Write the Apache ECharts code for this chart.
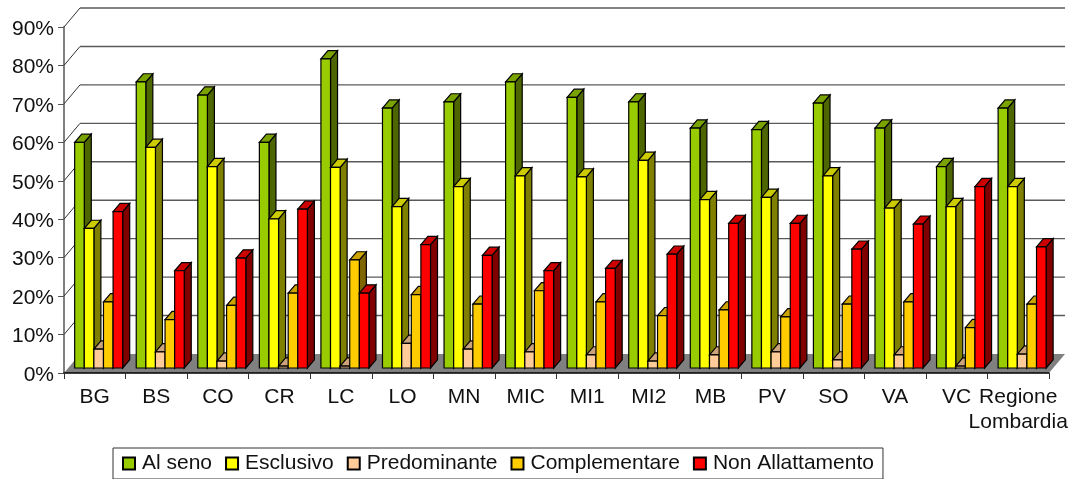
<!DOCTYPE html>
<html>
<head>
<meta charset="utf-8">
<style>html,body{margin:0;padding:0;background:#fff}#c{width:1074px;height:479px}</style>
<script src="https://cdn.jsdelivr.net/npm/echarts@6/dist/echarts.min.js"></script>
</head>
<body>
<div id="c"></div>
<script>
const categories = ['BG','BS','CO','CR','LC','LO','MN','MIC','MI1','MI2','MB','PV','SO','VA','VC','Regione\nLombardia'];
const alSeno        = [58.7,74.4,71.0,58.7,80.4,67.6,69.2,74.4,70.4,69.2,62.4,62.0,68.9,62.4,52.4,67.6];
const esclusivo     = [36.3,57.4,52.4,38.8,52.2,42.0,47.2,50.0,49.7,54.0,43.8,44.4,50.0,41.6,42.0,47.2];
const predominante  = [4.9,4.2,1.8,0.5,0.5,6.4,4.9,4.2,3.4,1.8,3.4,4.2,2.1,3.4,0.5,3.6];
const complementare = [17.2,12.6,16.3,19.5,28.1,19.1,16.6,20.1,17.2,13.6,15.1,13.3,16.6,17.2,10.5,16.6];
const nonAllatt     = [40.7,25.3,28.6,41.3,19.5,32.1,29.3,25.3,25.9,29.6,37.6,37.6,30.9,37.4,47.2,31.5];
const yTicks = [0,10,20,30,40,50,60,70,80,90];

const seriesDefs = [
  {name:'Al seno', values:alSeno, front:'#99cc00', side:'#4d6600', top:'#7aa300'},
  {name:'Esclusivo', values:esclusivo, front:'#ffff00', side:'#808000', top:'#cccc00'},
  {name:'Predominante', values:predominante, front:'#ffcc99', side:'#80664d', top:'#cca37a'},
  {name:'Complementare', values:complementare, front:'#ffcc00', side:'#806600', top:'#cca300'},
  {name:'Non Allattamento', values:nonAllatt, front:'#ff0000', side:'#800000', top:'#cc0000'}
];

const WALL_DX = 16, WALL_DY = 19;
const BASE_DX = 3.9, BASE_DY = 5;
const BAR_DX = 7, BAR_DY = 8.2;
const BAR_FRAC = 0.156;
const EDGE = {stroke:'#000', lineWidth:1.2};
const FONT = '"Liberation Sans",Arial,sans-serif';

function wallItem(params, api){
  const v = api.value(0);
  const cs = params.coordSys;
  const p = api.coord([0, v]);
  const y = p[1], left = cs.x, right = cs.x + cs.width;
  const children = [];
  if (params.dataIndex === 0) {
    children.push({type:'polygon', shape:{points:[[left,y],[right,y],[right+WALL_DX,y-WALL_DY],[left+WALL_DX,y-WALL_DY]]},
      style:{fill:'#808080', stroke:'none'}});
  } else {
    children.push({type:'line', shape:{x1:left+WALL_DX,y1:y-WALL_DY,x2:right+WALL_DX,y2:y-WALL_DY},
      style:{stroke:'#5a5a5a', lineWidth:1.4}});
    children.push({type:'line', shape:{x1:left,y1:y,x2:left+WALL_DX,y2:y-WALL_DY},
      style:{stroke:'#333', lineWidth:1}});
  }
  return {type:'group', children};
}

function barRenderer(idx, def){
  return function(params, api){
    const cat = api.value(0), val = api.value(1);
    const band = api.size([1,0])[0];
    const w = band * BAR_FRAC;
    const c = api.coord([cat, val]);
    const z = api.coord([cat, 0]);
    const x = c[0] - 2.5*w + BASE_DX + idx*w;
    const y0 = z[1] - BASE_DY, y1 = c[1] - BASE_DY;
    const r = x + w;
    return {type:'group', children:[
      {type:'polygon', shape:{points:[[r,y1],[r+BAR_DX,y1-BAR_DY],[r+BAR_DX,y0-BAR_DY],[r,y0]]},
        style:Object.assign({fill:def.side},EDGE)},
      {type:'polygon', shape:{points:[[x,y1],[x+BAR_DX,y1-BAR_DY],[r+BAR_DX,y1-BAR_DY],[r,y1]]},
        style:Object.assign({fill:def.top},EDGE)},
      {type:'rect', shape:{x:x,y:y1,width:w,height:y0-y1},
        style:Object.assign({fill:def.front},EDGE)}
    ]};
  };
}

const series = [{
  type:'custom', name:'wall', silent:true, clip:false, z:1,
  data:yTicks.map(v=>[v]), encode:{y:0}, renderItem:wallItem
}].concat(seriesDefs.map((d,i)=>({
  type:'custom', name:d.name, clip:false, z:2+i,
  itemStyle:{color:d.front, borderColor:'#000', borderWidth:1},
  data:d.values.map((v,k)=>[k,v]), encode:{x:0,y:1}, renderItem:barRenderer(i,d)
})));

const chart = echarts.init(document.getElementById('c'));
chart.setOption({
  animation:false,
  backgroundColor:'#fff',
  textStyle:{fontFamily:FONT},
  grid:{left:64,right:25,top:27,bottom:106,containLabel:false},
  xAxis:{type:'category',data:categories,boundaryGap:true,
    axisLine:{lineStyle:{color:'#000',width:1.5}},z:20,
    axisTick:{show:true,length:6,alignWithLabel:false,lineStyle:{color:'#333'}},
    axisLabel:{interval:0,color:'#111',fontSize:21,margin:12,lineHeight:25,fontFamily:FONT},
    splitLine:{show:false}},
  yAxis:{type:'value',min:0,max:90,interval:10,
    axisLine:{show:true,lineStyle:{color:'#808080',width:2}},
    axisTick:{show:true,length:6,lineStyle:{color:'#555'}},
    axisLabel:{formatter:'{a|{value}%}',margin:10,
      rich:{a:{color:'#111',fontSize:21,fontFamily:FONT,padding:[4,0,0,0]}}},
    splitLine:{show:false}},
  legend:{left:113,top:448,orient:'horizontal',icon:'rect',
    data:seriesDefs.map(d=>d.name),
    itemWidth:12,itemHeight:12,itemGap:13,
    padding:[5,9,5,9],
    borderColor:'#333',borderWidth:1,
    textStyle:{fontSize:21,color:'#111',padding:[0,0,0,2],fontFamily:FONT}},
  series
});
</script>
</body>
</html>
